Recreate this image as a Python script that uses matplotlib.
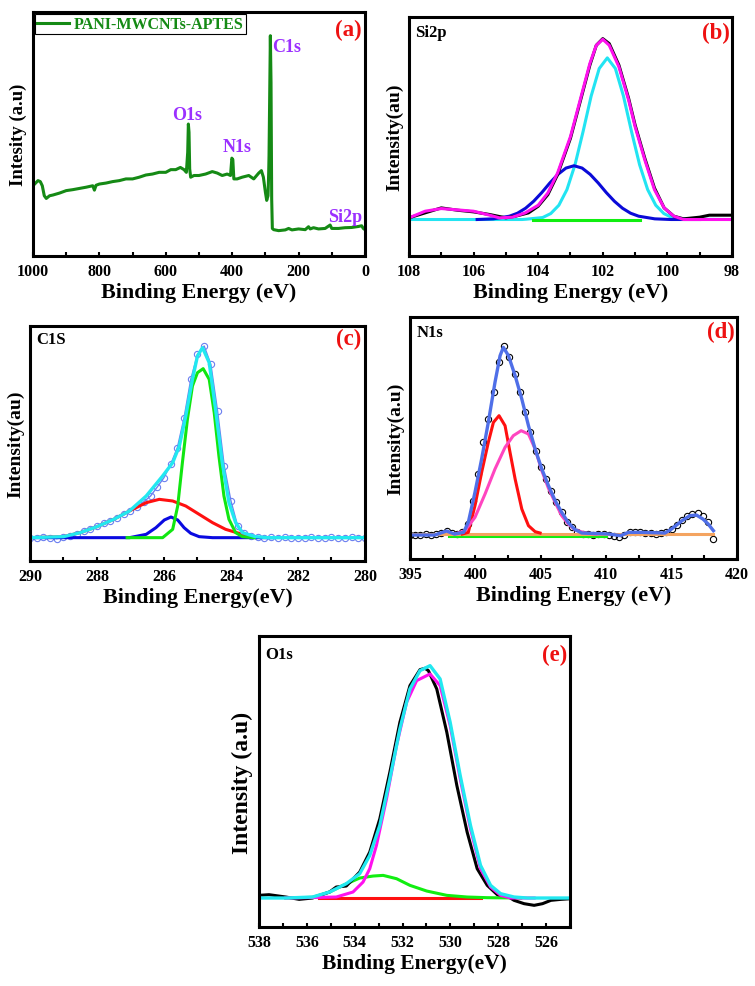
import numpy as np
import matplotlib.pyplot as plt
from matplotlib.ticker import MultipleLocator

plt.rcParams['font.family'] = ['Liberation Serif', 'DejaVu Serif']
plt.rcParams['font.weight'] = 'bold'

# ---------------- (a) survey spectrum ----------------
survey_be = [1000, 990, 985, 978, 972, 966, 960, 950, 940, 920, 900, 880, 860, 840, 820, 815, 810,
             800, 780, 760, 740, 720, 700, 680, 660, 640, 620, 600, 585, 570, 556, 545, 538, 534,
             532, 530, 528, 525, 515, 500, 480, 460, 445, 430, 415, 405, 401, 398, 395, 385, 370,
             350, 335, 320, 312, 306, 300, 296, 292, 290, 289, 286, 285, 283, 281, 279, 275, 260,
             240, 230, 220, 200, 180, 170, 165, 155, 140, 120, 105, 100, 80, 60, 40, 20, 10, 5, 0]
survey_int = [28.8, 30.2, 30.9, 30.5, 28.8, 24.7, 23.6, 24.7, 25.0, 25.8, 26.8, 27.2, 27.7, 28.2,
              28.8, 27.0, 29.0, 29.5, 29.9, 30.5, 30.9, 31.6, 31.6, 32.3, 33.2, 33.6, 34.3, 34.3,
              35.4, 35.4, 36.3, 35.4, 34.3, 42.5, 54.1, 50.7, 35.7, 32.3, 33.0, 33.0, 33.6, 34.6,
              34.0, 33.0, 33.6, 33.0, 40.1, 39.5, 31.6, 31.6, 32.3, 33.0, 31.6, 34.0, 35.0, 32.3,
              26.2, 22.8, 24.7, 34.3, 41.1, 78.0, 90.3, 71.2, 23.4, 11.3, 10.8, 10.4, 10.7, 11.3,
              10.7, 11.1, 10.8, 12.0, 11.1, 11.6, 11.1, 11.3, 12.7, 11.3, 11.3, 11.6, 11.7, 12.1,
              12.4, 11.3, 10.8]
survey_peaks = ['O1s', 'N1s', 'C1s', 'Si2p']
survey_peak_pos = [(536, 58), (385, 45), (235, 85.7), (60, 16.4)]

# ---------------- (b) Si2p ----------------
si_raw_be = [108, 107.5, 107.0, 106.5, 106, 105.5, 105, 104.7, 104.3, 104.0, 103.7, 103.4, 103.0,
             102.7, 102.4, 102.2, 102.0, 101.8, 101.5, 101.2, 101.0, 100.7, 100.4, 100.1, 99.8,
             99.5, 99.0, 98.7, 98.0]
si_raw = [115, 130, 145, 138, 133, 125, 115, 120, 130, 150, 185, 245, 355, 465, 575, 635, 655,
          640, 575, 475, 395, 295, 205, 145, 120, 112, 117, 123, 123]
si_env_be = [108, 107.5, 107, 106.5, 106, 105.5, 105.2, 104.8, 104.4, 104, 103.7, 103.4, 103,
             102.7, 102.4, 102.2, 102.0, 101.8, 101.5, 101.2, 101, 100.7, 100.4, 100.1, 99.8,
             99.5, 98]
si_env = [115, 135, 143, 139, 135, 123, 115, 117, 130, 153, 190, 250, 360, 470, 580, 635, 653,
          635, 570, 470, 390, 290, 200, 145, 120, 110, 110]
si_c1_be = [108, 104.5, 104.36, 103.86, 103.61, 103.36, 103.11, 102.86, 102.61, 102.36, 102.11,
            101.86, 101.61, 101.36, 101.11, 100.86, 100.61, 100.36, 100.11, 99.86, 99.36, 98]
si_c1 = [110, 110, 111, 116, 128, 153, 200, 275, 375, 482, 565, 597, 565, 482, 375, 275, 200,
         153, 128, 116, 111, 110]
si_c2_be = [105.89, 105.39, 104.89, 104.64, 104.39, 104.14, 103.89, 103.64, 103.39, 103.14,
            102.89, 102.64, 102.39, 102.14, 101.89, 101.64, 101.39, 101.14, 100.89, 100.39,
            99.89, 99.0]
si_c2 = [110, 112, 120, 129, 144, 165, 191, 220, 246, 265, 272, 265, 246, 220, 191, 165, 144,
         129, 120, 112, 110, 110]
si_base_be = [104.15, 100.85]
si_base = [110, 110]

# ---------------- (c) C1s ----------------
c_pts_be = np.round(np.arange(290, 279.9, -0.2), 1)
c_pts = [68, 70, 71, 70, 67, 72, 76, 82, 89, 97, 105, 113, 121, 130, 140, 150, 162, 178, 195,
         222, 250, 290, 340, 430, 545, 620, 645, 590, 450, 285, 180, 105, 85, 76, 72, 70, 71, 69,
         71, 70, 68, 70, 71, 69, 70, 71, 70, 69, 71, 70, 70]
c_env_be = [290, 289, 288.5, 288, 287.5, 287.03, 286.53, 286.04, 285.74, 285.54, 285.35, 285.15,
            285.0, 284.85, 284.65, 284.46, 284.26, 284.06, 283.86, 283.66, 283.27, 282.9, 280]
c_env = [70, 73, 85, 103, 125, 150, 195, 255, 295, 345, 435, 545, 615, 640, 595, 455, 295, 175,
         115, 85, 73, 70, 70]
c_red_be = [290, 289, 288.5, 288, 287.5, 287.03, 286.53, 286.14, 285.74, 285.35, 284.95, 284.55,
            284.16, 283.76, 283.3]
c_red = [70, 73, 85, 103, 125, 150, 175, 185, 180, 165, 140, 115, 95, 83, 72]
c_green_be = [287.1, 286.04, 285.74, 285.59, 285.45, 285.3, 285.15, 285.0, 284.83, 284.65, 284.5,
              284.36, 284.21, 284.06, 283.86, 283.66, 283.3]
c_green = [70, 70, 95, 165, 295, 425, 525, 565, 577, 545, 445, 315, 195, 125, 85, 73, 70]
c_blue_be = [290, 287.03, 286.53, 286.24, 285.99, 285.79, 285.59, 285.4, 285.2, 284.95, 284.55,
             282.8]
c_blue = [70, 70, 80, 100, 123, 132, 123, 100, 83, 73, 70, 70]

# ---------------- (d) N1s ----------------
n_pts_be = np.round(np.arange(395, 418.25, 0.4), 1)
n_pts = [72, 73, 72, 74, 73, 75, 78, 84, 78, 74, 80, 105, 175, 255, 350, 420, 500, 590, 640, 605,
         555, 500, 440, 380, 325, 275, 240, 205, 170, 140, 112, 95, 82, 76, 74, 73, 75, 76, 72,
         68, 66, 72, 80, 82, 80, 79, 78, 76, 77, 80, 90, 103, 118, 128, 135, 138, 130, 110, 60]
n_env_be = [395, 396.9, 397.8, 398.4, 399.1, 399.46, 399.97, 400.48, 400.99, 401.5, 401.89,
            402.14, 402.53, 403.04, 403.55, 404.06, 404.57, 405.08, 405.59, 406.1, 406.6, 407.12,
            407.63, 408.14, 410.2, 411.1, 411.7, 412.7, 414.5, 415.0, 415.8, 416.4, 416.9, 417.4,
            417.8, 418.2]
n_env = [72, 72, 84, 75, 80, 110, 200, 300, 410, 530, 610, 635, 610, 550, 480, 400, 330, 270, 220,
         175, 140, 108, 88, 78, 75, 70, 80, 80, 78, 90, 115, 130, 132, 120, 105, 85]
n_red_be = [399.0, 399.46, 399.97, 400.48, 400.99, 401.38, 401.81, 402.27, 402.65, 403.04,
            403.55, 404.06, 404.57, 404.95]
n_red = [75, 80, 160, 260, 350, 410, 430, 400, 320, 240, 150, 100, 82, 78]
n_pink_be = [398.44, 399.2, 399.97, 400.74, 401.5, 402.27, 402.9, 403.5, 404.06, 404.57, 405.08,
             405.59, 406.1, 406.6, 407.1, 407.6, 408.4, 409.2]
n_pink = [75, 85, 125, 195, 270, 335, 370, 385, 375, 330, 265, 212, 170, 130, 105, 88, 78, 75]
n_base_be = [395, 418.2]
n_base = [75, 75]
n_green_be = [398, 410]
n_green = [70, 70]

# ---------------- (e) O1s ----------------
o_raw_be = [538.0, 537.58, 536.88, 536.32, 535.76, 535.05, 534.77, 534.35, 533.79, 533.37, 532.95,
            532.53, 532.11, 531.69, 531.27, 531.06, 530.92, 530.57, 530.15, 529.73, 529.3, 528.88,
            528.46, 528.04, 527.62, 527.34, 526.92, 526.5, 526.15, 525.8, 525.38, 524.96]
o_raw = [95, 97, 90, 83, 87, 105, 120, 123, 165, 225, 325, 465, 615, 725, 773, 777, 770, 715, 585,
         425, 285, 175, 125, 97, 93, 80, 70, 65, 70, 80, 83, 85]
o_env_be = [538.0, 536.88, 535.76, 535.05, 534.35, 533.79, 533.37, 532.95, 532.53, 532.11, 531.69,
            531.27, 530.85, 530.43, 530.01, 529.59, 529.16, 528.74, 528.32, 527.9, 527.34, 526.78,
            524.96]
o_env = [87, 87, 90, 105, 130, 160, 215, 305, 445, 595, 715, 770, 785, 745, 615, 455, 305, 185,
         125, 100, 90, 87, 87]
o_mag_be = [536.88, 534.77, 534.07, 533.65, 533.37, 533.09, 532.67, 532.25, 531.83, 531.41, 530.85,
            530.43, 530.01, 529.59, 529.16, 528.74, 528.32, 527.9, 527.48, 526.5]
o_mag = [87, 90, 105, 135, 175, 245, 385, 545, 675, 740, 760, 725, 605, 445, 295, 175, 120, 95,
         87, 87]
o_green_be = [536.88, 535.76, 535.05, 534.49, 533.79, 533.23, 532.81, 532.25, 531.69, 530.99,
              530.15, 529.3, 528.46, 527.06]
o_green = [87, 89, 105, 125, 147, 153, 155, 145, 125, 108, 95, 90, 88, 87]
o_base_be = [535.5, 528.7]
o_base = [87, 87]


def style_axis(ax, xlim, ylim, xmajor, xminor, ylabel, yl_size=13.5):
    ax.set_xlim(*xlim)
    ax.set_ylim(*ylim)
    ax.xaxis.set_major_locator(MultipleLocator(xmajor))
    ax.xaxis.set_minor_locator(MultipleLocator(xminor))
    ax.set_yticks([])
    ax.tick_params(axis='x', which='both', direction='in', length=3, width=1.5,
                   labelsize=11.5, pad=5)
    for lab in ax.get_xticklabels():
        lab.set_fontweight('bold')
    for sp in ax.spines.values():
        sp.set_linewidth(2.2)
    ax.set_ylabel(ylabel, fontsize=yl_size, fontweight='bold', labelpad=4)


def corner_labels(ax, name, tag, y=0.935):
    ax.text(0.02, y, name, transform=ax.transAxes, fontsize=12, fontweight='bold',
            ha='left', va='center')
    ax.text(0.95, y, tag, transform=ax.transAxes, fontsize=16.5, fontweight='bold',
            color='#ee1111', ha='center', va='center')


fig = plt.figure(figsize=(7.55, 9.87), dpi=100)

# (a)
ax = fig.add_axes([0.0437, 0.7396, 0.4397, 0.2472])
ax.plot(survey_be, survey_int, color='#158a15', lw=2.2, label='PANI-MWCNTs-APTES')
style_axis(ax, (1000, 0), (0, 100), 200, 100, 'Intesity (a.u)', 13.5)
ax.set_xlabel('Binding Energy (eV)', fontsize=15.8, fontweight='bold', labelpad=2)
for name, (px, py) in zip(survey_peaks, survey_peak_pos):
    ax.text(px, py, name, color='#9b30ff', fontsize=13, fontweight='bold', ha='center', va='center')
ax.text(0.95, 0.93, '(a)', transform=ax.transAxes, fontsize=16.5, fontweight='bold',
        color='#ee1111', ha='center', va='center')
leg = ax.legend(loc='upper left', handlelength=2.0, borderpad=0.12,
                borderaxespad=0.15, handletextpad=0.3, fancybox=False, framealpha=1,
                edgecolor='black', prop={'weight': 'bold', 'size': 11.5})
leg.get_frame().set_linewidth(0.8)
for t in leg.get_texts():
    t.set_color('#158a15')

# (b)
ax = fig.add_axes([0.5417, 0.7396, 0.4278, 0.2421])
ax.plot(si_c1_be, si_c1, color='#22e4f2', lw=2.2)
ax.plot(si_c2_be, si_c2, color='#0a0ad8', lw=2.2)
ax.plot(si_base_be, si_base, color='#11ee11', lw=2.2)
ax.plot(si_raw_be, si_raw, color='black', lw=2.2)
ax.plot(si_env_be, si_env, color='#ff10ee', lw=2.2)
style_axis(ax, (108, 98), (0, 720), 2, 1, 'Intensity(au)', 14)
ax.set_xlabel('Binding Energy (eV)', fontsize=15.8, fontweight='bold', labelpad=2)
corner_labels(ax, 'Si2p', '(b)', 0.937)

# (c)
ax = fig.add_axes([0.0397, 0.4306, 0.4437, 0.2381])
ax.plot(c_pts_be, c_pts, color='#6b7ff0', lw=1.0, marker='o', ms=4.5, mfc='none', mew=0.8)
ax.plot(c_red_be, c_red, color='#ff1010', lw=2.2)
ax.plot(c_blue_be, c_blue, color='#0a0ae0', lw=2.2)
ax.plot(c_green_be, c_green, color='#11e611', lw=2.2)
ax.plot(c_env_be, c_env, color='#22e8f0', lw=2.4)
style_axis(ax, (290, 280), (0, 705), 2, 1, 'Intensity(au)', 14)
ax.set_xlabel('Binding Energy(eV)', fontsize=15.8, fontweight='bold', labelpad=2)
corner_labels(ax, 'C1S', '(c)', 0.945)

# (d)
ax = fig.add_axes([0.543, 0.4326, 0.4331, 0.2452])
ax.plot(n_pts_be, n_pts, color='black', lw=0, marker='o', ms=4.5, mfc='none', mew=0.8)
ax.plot(n_green_be, n_green, color='#11ee11', lw=2.2)
ax.plot(n_base_be, n_base, color='#f4a460', lw=2.2)
ax.plot(n_red_be, n_red, color='#ff1010', lw=2.2)
ax.plot(n_pink_be, n_pink, color='#ff45c0', lw=2.2)
ax.plot(n_env_be, n_env, color='#4f6fe8', lw=2.4)
style_axis(ax, (395, 420), (0, 726), 5, 2.5, 'Intensity(a.u)', 14)
ax.set_xlabel('Binding Energy (eV)', fontsize=15.8, fontweight='bold', labelpad=2)
corner_labels(ax, 'N1s', '(d)', 0.94)

# (e)
ax = fig.add_axes([0.343, 0.0598, 0.412, 0.2948])
ax.plot(o_base_be, o_base, color='#ff1010', lw=2.2)
ax.plot(o_green_be, o_green, color='#11ee11', lw=2.2)
ax.plot(o_raw_be, o_raw, color='black', lw=2.2)
ax.plot(o_mag_be, o_mag, color='#ff10ee', lw=2.2)
ax.plot(o_env_be, o_env, color='#22e8f0', lw=2.4)
style_axis(ax, (538, 525), (0, 874), 2, 1, 'Intensity (a.u)', 17)
ax.set_xlabel('Binding Energy(eV)', fontsize=15.5, fontweight='bold', labelpad=2)
corner_labels(ax, 'O1s', '(e)', 0.938)

fig.savefig('out.png', dpi=100)
